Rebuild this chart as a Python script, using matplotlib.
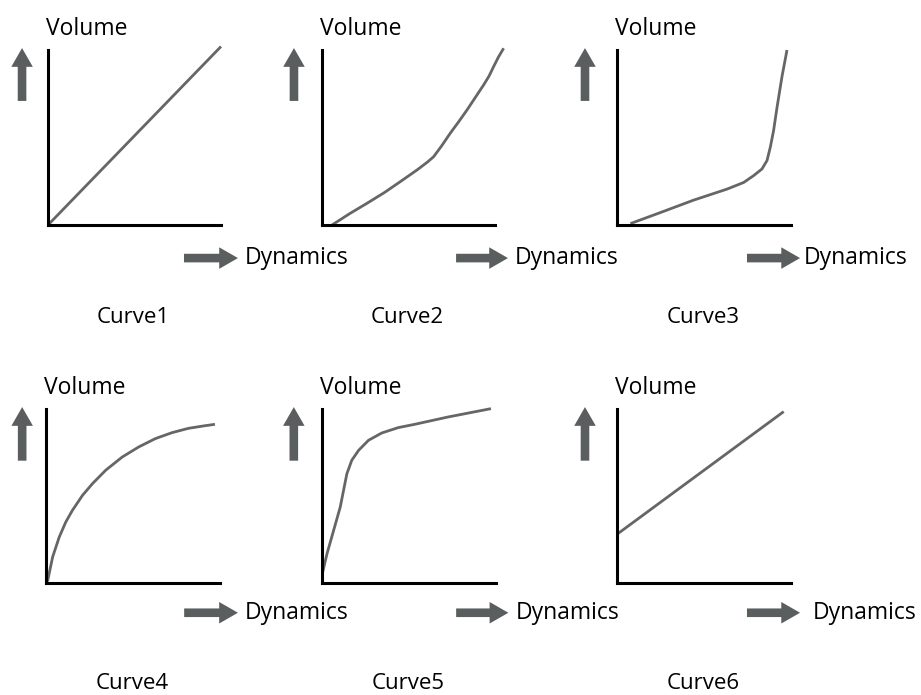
import matplotlib
matplotlib.use("Agg")
import matplotlib.pyplot as plt

plt.rcParams['font.family'] = ['Open Sans', 'DejaVu Sans']

# curve shapes (x: dynamics, y: volume, 0..1)
curve1_x = [0.0, 1.0]
curve1_y = [0.0, 1.02]

curve2_x = [0.058, 0.16, 0.26, 0.36, 0.453, 0.55, 0.61, 0.645, 0.69, 0.741, 0.79, 0.838, 0.885, 0.934, 0.965, 0.992, 1.02, 1.05]
curve2_y = [0.0, 0.065, 0.124, 0.185, 0.248, 0.315, 0.36, 0.39, 0.45, 0.524, 0.59, 0.657, 0.727, 0.8, 0.85, 0.905, 0.96, 1.01]

curve3_x = [0.077, 0.249, 0.44, 0.632, 0.728, 0.785, 0.833, 0.862, 0.881, 0.9, 0.92, 0.948, 0.977]
curve3_y = [0.008, 0.071, 0.142, 0.205, 0.243, 0.282, 0.32, 0.368, 0.444, 0.54, 0.674, 0.847, 1.0]

curve4_x = [0.0, 0.01, 0.038, 0.076, 0.114, 0.152, 0.21, 0.267, 0.343, 0.438, 0.533, 0.629, 0.724, 0.819, 0.914, 0.971]
curve4_y = [0.0, 0.015, 0.149, 0.264, 0.351, 0.418, 0.504, 0.571, 0.648, 0.724, 0.782, 0.83, 0.864, 0.889, 0.904, 0.912]

curve5_x = [0.004, 0.029, 0.067, 0.105, 0.124, 0.143, 0.171, 0.21, 0.267, 0.343, 0.438, 0.533, 0.724, 0.971]
curve5_y = [0.063, 0.169, 0.303, 0.437, 0.533, 0.628, 0.705, 0.762, 0.82, 0.862, 0.893, 0.912, 0.954, 1.002]

curve6_x = [0.0, 0.958]
curve6_y = [0.28, 0.985]

curve_names = ["Curve1", "Curve2", "Curve3", "Curve4", "Curve5", "Curve6"]
curves = [(curve1_x, curve1_y), (curve2_x, curve2_y), (curve3_x, curve3_y),
          (curve4_x, curve4_y), (curve5_x, curve5_y), (curve6_x, curve6_y)]

# layout (pixels of the 921x695 figure)
W, H = 921, 695
ax_left = [48, 322, 617, 46, 322, 617]
ax_right = [221, 495, 791, 220, 496, 791]
ax_top = [50, 50, 50, 409, 409, 409]
ax_bottom = [225, 225, 225, 583, 583, 583]

up_x = [-0.150, -0.162, -0.184, -0.137, -0.162, -0.184]
right_x0 = [0.786, 0.775, 0.747, 0.794, 0.771, 0.747]
right_x1 = [1.098, 1.075, 1.052, 1.103, 1.071, 1.052]
dyn_x = [1.139, 1.116, 1.075, 1.143, 1.116, 1.126]

arrow_col = "#5a5e5f"
curve_col = "#666666"

fig = plt.figure(figsize=(W / 100, H / 100), dpi=100)

for i, (cx, cy) in enumerate(curves):
    l, r, t, b = ax_left[i], ax_right[i], ax_top[i], ax_bottom[i]
    ax = fig.add_axes([l / W, 1 - b / H, (r - l) / W, (b - t) / H])
    ax.set_xlim(0, 1)
    ax.set_ylim(0, 1)
    ax.plot(cx, cy, color=curve_col, lw=2.0, clip_on=False,
            solid_capstyle="butt", solid_joinstyle="round")

    for s in ["top", "right"]:
        ax.spines[s].set_visible(False)
    for s in ["left", "bottom"]:
        ax.spines[s].set_linewidth(2.2)
        ax.spines[s].set_color("black")
    ax.set_xticks([])
    ax.set_yticks([])
    ax.patch.set_visible(False)

    row_bottom = i >= 3
    arr = dict(arrowstyle="simple,head_length=1.35,head_width=1.55,tail_width=0.62",
               mutation_scale=10, fc=arrow_col, ec="none", lw=0, shrinkA=0, shrinkB=0)

    # up arrow + Volume
    y0, y1 = (0.703, 1.011) if row_bottom else (0.709, 1.011)
    ax.annotate("", xy=(up_x[i], y1), xytext=(up_x[i], y0),
                xycoords="axes fraction", textcoords="axes fraction",
                arrowprops=arr, annotation_clip=False)
    ax.text(-0.01, 1.12, "Volume", transform=ax.transAxes, fontsize=16.5,
            ha="left", va="center")

    # right arrow + Dynamics
    ry = -0.171 if row_bottom else -0.189
    ax.annotate("", xy=(right_x1[i], ry), xytext=(right_x0[i], ry),
                xycoords="axes fraction", textcoords="axes fraction",
                arrowprops=arr, annotation_clip=False)
    ax.text(dyn_x[i], ry, "Dynamics", transform=ax.transAxes, fontsize=16.5,
            ha="left", va="center")

    # caption
    cy_txt = -0.575 if row_bottom else -0.526
    ax.text(0.495, cy_txt, curve_names[i], transform=ax.transAxes, fontsize=16,
            ha="center", va="center")

fig.savefig("out.png", dpi=100)
